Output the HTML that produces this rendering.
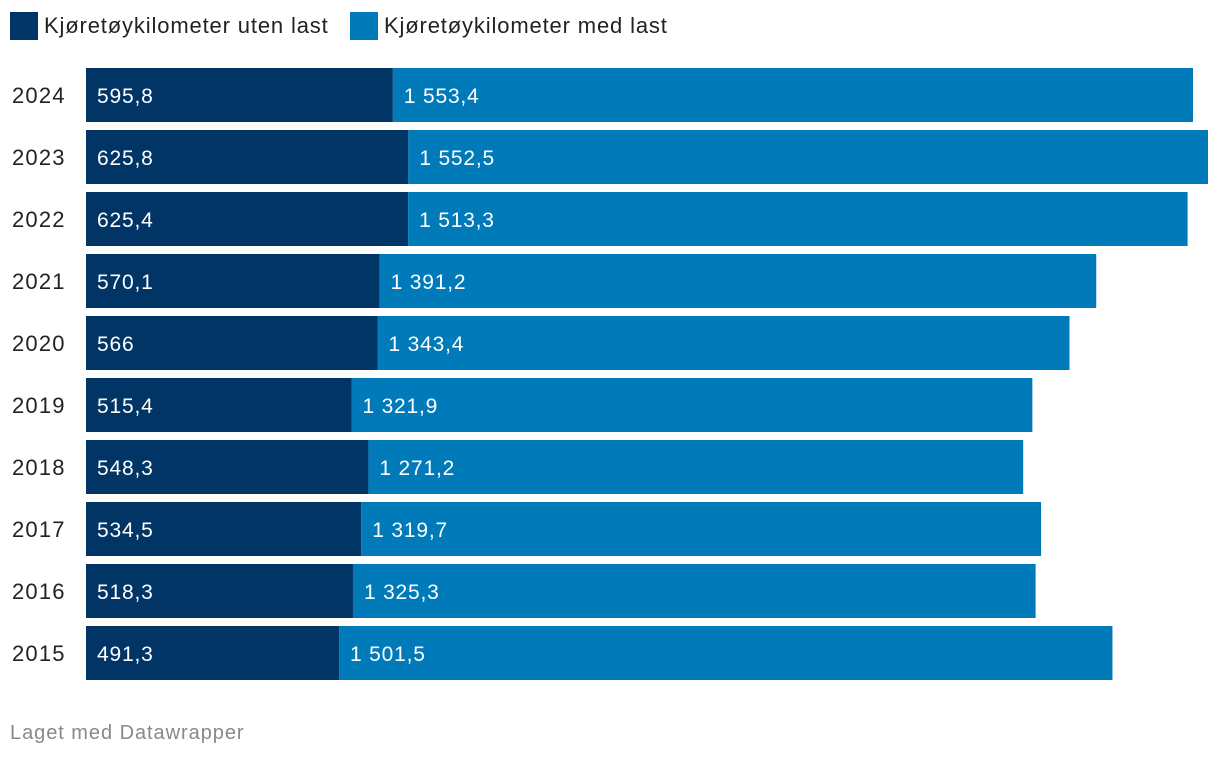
<!DOCTYPE html>
<html><head><meta charset="utf-8"><style>
body{margin:0;width:1220px;height:758px;background:#fff;font-family:"Liberation Sans",sans-serif;overflow:hidden;position:relative}
.leg{position:absolute;top:12px;display:flex;align-items:center;font-size:22px;color:#222;letter-spacing:0.85px}
.sw{width:28px;height:28px;margin-right:6px}
.foot{position:absolute;left:10px;top:722px;font-size:20px;color:#888;letter-spacing:0.95px}
</style></head><body>
<div class="leg" style="left:10px"><div class="sw" style="background:#003566"></div>Kjøretøykilometer uten last</div>
<div class="leg" style="left:350px"><div class="sw" style="background:#007ab8"></div>Kjøretøykilometer med last</div>
<svg id="chart" width="1220" height="700" style="position:absolute;left:0;top:0"></svg>
<div class="foot">Laget med Datawrapper</div>
<script>
const years=["2024","2023","2022","2021","2020","2019","2018","2017","2016","2015"];
const utenLast=[595.8,625.8,625.4,570.1,566,515.4,548.3,534.5,518.3,491.3];
const medLast=[1553.4,1552.5,1513.3,1391.2,1343.4,1321.9,1271.2,1319.7,1325.3,1501.5];
const svg=document.getElementById('chart');
const NS="http://www.w3.org/2000/svg";
const x0=86, scale=1122/2178.3;
const xs=v=>v*scale;
const fmt=v=>{let s=String(v).replace('.',',');let [i,d]=s.split(',');i=i.replace(/\B(?=(\d{3})+(?!\d))/g,' ');return d?i+','+d:i;};
function add(tag,attrs,text){const e=document.createElementNS(NS,tag);for(const k in attrs)e.setAttribute(k,attrs[k]);if(text!=null)e.textContent=text;svg.appendChild(e);return e;}
years.forEach((y,i)=>{
  const top=68+i*62, h=54, cy=top+h/2+8;
  const w1=xs(utenLast[i]), w2=xs(medLast[i]);
  const lab=add('text',{x:12,y:cy,'font-size':22,fill:'#222','letter-spacing':1.2},y);
  
  
  const r1=add('rect',{x:x0,y:top,width:w1,height:h,fill:'#003566'});
  
  
  const r2=add('rect',{x:x0+w1,y:top,width:w2,height:h,fill:'#007ab8'});
  
  
  const t1=add('text',{x:x0+11,y:cy,'font-size':21,fill:'#fff','letter-spacing':0.8},fmt(utenLast[i]));
  
  
  const t2=add('text',{x:x0+w1+11,y:cy,'font-size':21,fill:'#fff','letter-spacing':0.8},fmt(medLast[i]));
  
  
});
</script>
</body></html>
